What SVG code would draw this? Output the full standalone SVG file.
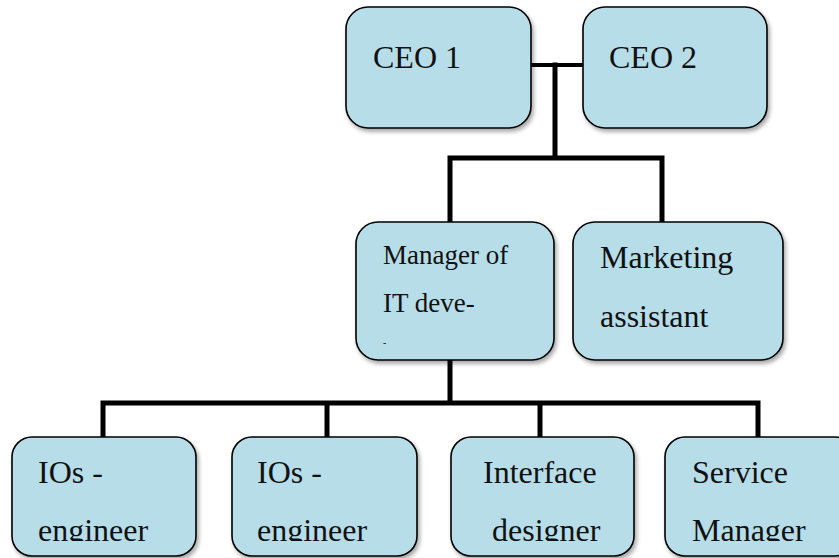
<svg xmlns="http://www.w3.org/2000/svg" width="839" height="558" viewBox="0 0 839 558">
<style>
.box{fill:#b7dde8;stroke:#000;stroke-width:1.6;filter:url(#sh)}
.ln{fill:none;stroke:#000;stroke-width:5;stroke-linecap:square}
.t{font-family:'Liberation Serif','Times New Roman',serif;fill:#111}
.big{font-size:32px}
.mid{font-size:27px}
</style>
<defs>
<filter id="sh" x="-10%" y="-10%" width="130%" height="130%">
<feDropShadow dx="2" dy="3" stdDeviation="2" flood-color="#000" flood-opacity="0.35"/>
</filter>
<clipPath id="bclip"><rect x="0" y="430" width="839" height="111"/></clipPath>
</defs>
<rect width="839" height="558" fill="#fff"/>
<g id="connectors">
<path class="ln" d="M531 65H583" style="stroke-width:4"/>
<path class="ln" d="M555 65V158M450 158H662M450 158V222M662 158V222"/>
<path class="ln" d="M450 360V403M103 403H758M103 403V437M327 403V437M540 403V437M758 403V437"/>
</g>
<g id="ceo1">
<rect class="box" x="346" y="7" width="185" height="121" rx="22"/>
<text class="t big" x="373" y="68">CEO 1</text>
</g>
<g id="ceo2">
<rect class="box" x="583" y="7" width="184" height="121" rx="22"/>
<text class="t big" x="609" y="68">CEO 2</text>
</g>
<g id="manager-it">
<rect class="box" x="356" y="222" width="198" height="138" rx="22"/>
<text class="t mid" x="383" y="264">Manager of</text>
<text class="t mid" x="383" y="312">IT deve-</text>
<text class="t" x="383" y="346" font-size="10">-</text>
</g>
<g id="marketing">
<rect class="box" x="573" y="222" width="210" height="138" rx="22"/>
<text class="t big" x="600" y="268">Marketing</text>
<text class="t big" x="600" y="327">assistant</text>
</g>
<g id="ios1">
<rect class="box" x="12" y="437" width="184" height="119" rx="20"/>
<g clip-path="url(#bclip)">
<text class="t big" x="38" y="483">IOs -</text>
<text class="t big" x="38" y="541">engineer</text>
</g>
</g>
<g id="ios2">
<rect class="box" x="232" y="437" width="185" height="119" rx="20"/>
<g clip-path="url(#bclip)">
<text class="t big" x="257" y="483">IOs -</text>
<text class="t big" x="257" y="541">engineer</text>
</g>
</g>
<g id="interface">
<rect class="box" x="451" y="437" width="183" height="119" rx="20"/>
<g clip-path="url(#bclip)">
<text class="t big" x="483" y="483">Interface</text>
<text class="t big" x="492" y="541">designer</text>
</g>
</g>
<g id="service">
<rect class="box" x="665" y="437" width="190" height="119" rx="20"/>
<g clip-path="url(#bclip)">
<text class="t big" x="692" y="483">Service</text>
<text class="t big" x="692" y="541">Manager</text>
</g>
</g>
</svg>
